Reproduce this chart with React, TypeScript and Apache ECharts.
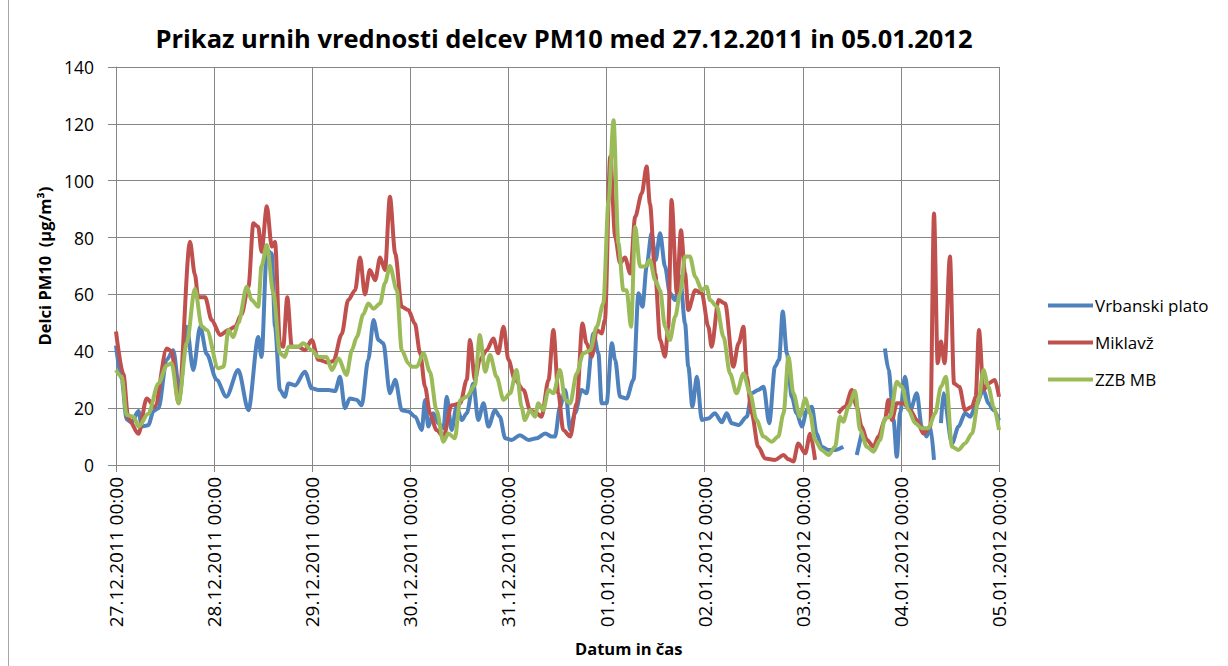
import React, { useEffect, useRef } from "react";
import * as echarts from "echarts";

// Hours since 27.12.2011 00:00, PM10 value (µg/m³); null marks a gap
const vrbanskiPlato: [number, number | null][] = [
  [0, 42], [1.4, 30], [2.6, 16], [3.8, 15], [5.5, 19], [6.3, 13.5], [7.9, 14], [9.2, 19], [10.4, 20],
  [12.4, 37], [14, 40.4], [15.6, 25], [17.3, 48.6], [18.9, 33.4], [20.6, 48.6], [22.2, 39], [24.6, 30],
  [27, 24], [29.9, 33.4], [32.4, 19.3], [34.8, 45], [35.6, 38], [36.9, 75.6], [38.1, 74.4], [38.9, 48.6],
  [40.1, 26.4], [41.3, 24], [42.2, 28.7], [43.8, 28], [46.2, 32.8], [47.9, 27], [49.5, 26.4], [52, 26.4],
  [53.6, 26], [54.8, 31], [56, 20], [57.2, 23.4], [58.9, 22.9], [60.1, 21], [61.7, 37], [63, 51],
  [64.2, 44], [65.4, 42.8], [67, 25.2], [68.3, 30], [69.9, 19.3], [71.5, 18.8], [73.2, 17], [74.8, 12.3],
  [75.6, 22.9], [76.4, 13.5], [77.6, 18.2], [78.9, 14.6], [80.1, 12.9], [80.9, 24], [82.1, 12.3],
  [83.3, 20.5], [84.6, 15.8], [85.8, 18.2], [87.4, 28.7], [88.6, 15.8], [89.9, 21.7], [91.1, 13.5],
  [92.7, 19.3], [93.9, 17], [95.2, 9.4], [96.8, 8.8], [98.8, 10.5], [100.9, 8.8], [102.9, 9.4], [105, 11.1],
  [106.6, 10], [107.4, 10], [108.6, 20.5], [109.9, 26.4], [111.1, 12.3], [112.3, 18.2], [113.9, 26.4],
  [115.1, 25.2], [116.8, 46.3], [118, 39.3], [118.8, 21.7], [120, 21.7], [121.3, 42.8], [122.1, 37],
  [123.3, 24], [124.9, 23.4], [126.6, 30], [127.8, 60.4], [128.8, 55.7], [129.8, 69.8], [131, 81.5],
  [132, 72.1], [133.1, 81.5], [134.3, 69.8], [135.5, 60.4], [136.8, 58], [138, 66.2], [139.2, 49.8],
  [140, 34.6], [141, 20.5], [142.1, 31], [143.3, 15.8], [144.9, 16.4], [146.5, 18.2], [148.2, 15],
  [149.4, 18.2], [150.6, 14.7], [152.3, 14.1], [154.3, 17], [155.5, 25.2], [157.1, 26.4], [158.4, 27.5],
  [159.8, 14.7], [161.2, 34.6], [162.2, 37], [163.1, 54], [164.1, 39.3], [165.3, 24], [166.5, 18.2],
  [167.8, 13.5], [169, 19.3], [170.2, 20.5], [171.4, 11.1], [172.6, 6.4], [174.3, 5.3], [175.9, 5.3],
  [177.9, 6.4], [178.5, null], [181.2, 3.5], [182.4, 11.1], [183, null], [188.1, 41], [189, 33.4],
  [190.2, 15.8], [191, 2.9], [191.8, 18.2], [193, 31], [194.3, 19.3], [195.9, 25.2], [197.1, 13.5],
  [198.3, 10], [199.2, 13.5], [200.1, 1.8], [201, null], [201.8, 14.7], [202.4, 25.2], [204.5, 7.6],
  [206.1, 13.5], [207.7, 18.2], [209, 17], [210.2, 20.5], [212.2, 26.4], [213.4, 21.7], [214.7, 19.3],
  [216, 15.8],
];

const miklavz: [number, number | null][] = [
  [0, 47], [1.8, 32], [3, 16.4], [5.5, 11], [7.5, 23.4], [9.5, 20.5], [12.4, 41], [13.6, 40], [15.3, 21.7],
  [18.1, 78.5], [19.3, 67], [20.1, 59], [21.8, 59], [23.4, 51], [25.5, 45.7], [27.5, 47.5], [29.1, 48.6],
  [30.7, 53], [32.4, 62.7], [33.6, 85], [34.8, 83.8], [35.6, 75], [36.9, 91], [38.1, 76.8], [38.9, 78.5],
  [40.1, 42.8], [40.9, 41.6], [41.9, 59], [43, 41.6], [44.6, 41.6], [46.2, 40.4], [47.9, 44], [49.5, 37],
  [52, 36], [53.2, 36.6], [55.2, 46], [56.8, 58], [58.5, 61.5], [59.7, 73], [60.9, 60], [62.1, 68.6],
  [63.4, 65], [64.6, 73], [65.8, 68.6], [67, 94.4], [68.3, 74.4], [69.9, 55.7], [71.5, 54.5], [73.1, 49.8],
  [74.4, 39.3], [75.6, 27.5], [76.8, 18.2], [78.4, 12.3], [80.1, 10], [82.1, 21], [84.2, 21.7], [85.8, 30],
  [86.6, 44], [87.8, 29.9], [89, 37], [90.7, 40.4], [92.3, 44.5], [93.5, 39.3], [94.8, 48.6], [96, 37],
  [97.6, 29.9], [99.7, 26.4], [101.3, 19.3], [102.9, 18.2], [104.1, 17], [105.8, 29.9], [107, 47.5],
  [108.2, 25.2], [109.4, 12.3], [111.1, 10], [112.7, 21.7], [114.1, 49.8], [115.1, 42.8], [116.4, 38.1],
  [117.6, 47.5], [118.8, 46.3], [119.6, 51], [120.9, 108.4], [122.1, 80.3], [123.3, 71], [124.5, 73],
  [125.8, 67.4], [127, 87.3], [128.6, 95.5], [129.8, 105], [130.6, 92], [131.9, 67.4], [133.1, 44],
  [134.3, 38.1], [135.1, 48.6], [135.9, 93.2], [137.2, 60.4], [138.2, 82.6], [139.2, 67.4], [140, 54.5],
  [141.7, 61.5], [143.3, 60.4], [144.9, 48.6], [145.7, 41.6], [147.4, 58], [149, 56.8], [151, 34.6],
  [152.3, 42.8], [153.5, 48.6], [154.3, 31], [155.5, 18.2], [157.1, 6.4], [158.8, 2.3], [161.2, 1.8],
  [163.3, 3.5], [164.5, 2], [165.7, 1.2], [166.9, 7.6], [168.6, 4.1], [169.8, 11], [171, 1.8], [172, null],
  [176.7, 18.2], [178.4, 20.5], [180, 26.4], [181.2, 20.5], [182.4, 13.5], [183.7, 8.8], [185.3, 6.4],
  [186.5, 10], [188.1, 15.8], [188.9, 22.9], [189.8, 15.8], [191, 21.7], [192.6, 21.7], [194.3, 19.3],
  [195.9, 15.8], [197.5, 11.1], [199.2, 13.5], [200.1, 88.5], [201, 35.8], [201.8, 43.4], [202.7, 35.8],
  [204, 73.3], [205, 28.7], [206.3, 27.5], [207.7, 19.3], [209.4, 20.5], [210.3, 24], [211.1, 47.5],
  [212.2, 26.4], [213.4, 28.7], [215, 29.9], [216, 24],
];

const zzbMb: [number, number | null][] = [
  [0, 33.4], [1.4, 31], [2.6, 17.6], [4.3, 17], [5.5, 13.5], [7.9, 18], [10.4, 28.7], [12.4, 35],
  [13.6, 35.8], [15.3, 21.7], [17.3, 42.8], [19.3, 62], [21, 48.7], [22.2, 47.5], [25, 34], [26.3, 34.6],
  [27.5, 47.5], [28.7, 45], [29.9, 49.8], [32, 62.7], [33.2, 58], [34.8, 55.7], [35.6, 70], [36.9, 77.4],
  [38.5, 60.4], [40.1, 39.3], [41.3, 38], [42.2, 41.6], [44.6, 41.6], [45.8, 42.8], [47.9, 40.4],
  [49.5, 38], [51.5, 38], [52.8, 33.4], [54.4, 37.5], [56.4, 31.7], [57.7, 40.4], [58.9, 45], [60.5, 53],
  [61.7, 56.8], [63, 55], [64.6, 56.8], [65.8, 64], [67, 70], [68.7, 61.5], [69.9, 40.4], [71.5, 35.8],
  [72.3, 34.6], [73.6, 34.6], [75.2, 39.3], [76.8, 32.8], [78.4, 19.3], [80.1, 8.2], [81.3, 11.1],
  [82.9, 9.4], [84.2, 22.9], [85.8, 24], [87.8, 28.1], [89, 45.7], [90.3, 32.8], [91.5, 38.7], [93.1, 31],
  [94.8, 22.9], [96.4, 25.2], [98, 33.4], [99.2, 20.5], [100, 15.8], [101.3, 19.3], [102.5, 17],
  [103.3, 21.7], [104.5, 19.3], [105.8, 26.4], [107, 25.2], [108.6, 33.4], [109.9, 22.9], [111.1, 21.7],
  [112.7, 32.2], [114.3, 39.3], [116, 40.4], [117.6, 48.6], [119.2, 56.8], [120.5, 93.2], [121.7, 121.3],
  [122.9, 78], [124.1, 61.5], [124.9, 61.5], [126, 48.6], [127, 83.8], [128.2, 69.8], [129.4, 69.8],
  [130.6, 72.1], [131.9, 65], [133.1, 61.5], [134.3, 48.6], [135.5, 44], [136.8, 52.2], [138, 60.4],
  [139.2, 73.3], [140.4, 73.3], [141.7, 66.2], [143.3, 61.5], [144.5, 62.7], [145.3, 58], [147, 55.7],
  [148.6, 45.1], [150.2, 32.2], [151.8, 25.2], [153.5, 32.2], [155.1, 25.2], [156.7, 15.8], [158.4, 10],
  [160.4, 8.2], [162, 10], [163.3, 18.2], [164.5, 38.1], [165.7, 25.2], [167.3, 17], [168.6, 23.4],
  [169.8, 18.2], [171, 8.8], [172.6, 5.3], [174.3, 3.5], [175.9, 6.4], [177.1, 17], [177.9, 15.2],
  [179.2, 20.5], [180.8, 26], [182, 12.3], [183.7, 6.4], [185.3, 4.7], [186.9, 8.8], [188.1, 16.4],
  [189.4, 17], [191, 29.3], [192.2, 27.5], [193.9, 19.3], [195.5, 14.7], [197.1, 12.9], [198.7, 12.9],
  [200.4, 18.2], [201.8, 27.5], [203, 31], [204.5, 6.4], [206.1, 5.3], [207.7, 7.6], [209.4, 11.1],
  [211, 22.9], [212.2, 33.4], [213.4, 27.5], [214.7, 20.5], [216, 12.3],
];

const seriesNames = ["Vrbanski plato", "Miklavž", "ZZB MB"];
const seriesColors = ["#4F81BD", "#C0504D", "#9BBB59"];
const titleText = "Prikaz urnih vrednosti delcev PM10 med 27.12.2011 in 05.01.2012";
const yAxisTitle = "Delci PM10  (µg/m³)";
const xAxisTitle = "Datum in čas";
const startUtc = Date.UTC(2011, 11, 27, 0, 0);

const FONT = "'Open Sans', 'Noto Sans', sans-serif";

function fmtHour(h: number): string {
  const d = new Date(startUtc + h * 3600000);
  const p = (n: number) => String(n).padStart(2, "0");
  return `${p(d.getUTCDate())}.${p(d.getUTCMonth() + 1)}.${d.getUTCFullYear()} ${p(d.getUTCHours())}:${p(d.getUTCMinutes())}`;
}

export default function App() {
  const ref = useRef<HTMLDivElement>(null);
  useEffect(() => {
    if (!ref.current) return;
    const chart = echarts.init(ref.current, null, { renderer: "svg" });
    const datasets = [vrbanskiPlato, miklavz, zzbMb];
    chart.setOption({
      animation: false,
      backgroundColor: "#ffffff",
      title: {
        text: titleText,
        left: 564,
        top: 25,
        padding: 0,
        textAlign: "center",
        textStyle: { fontFamily: FONT, fontWeight: "bold", fontSize: 25.5, color: "#000" },
      },
      legend: {
        orient: "vertical",
        left: 1043,
        top: 292,
        itemWidth: 45,
        itemHeight: 4,
        itemGap: 20,
        icon: "rect",
        data: seriesNames,
        textStyle: { fontFamily: FONT, fontSize: 17, color: "#000", padding: [0, 0, 0, -3] },
      },
      grid: { left: 116, right: 229, top: 67, bottom: 201, containLabel: false },
      xAxis: {
        type: "value",
        min: 0,
        max: 216,
        interval: 24,
        axisLine: { show: true, lineStyle: { color: "#868686", width: 1 } },
        axisTick: { show: true, length: 7, lineStyle: { color: "#868686" } },
        splitLine: { show: true, lineStyle: { color: "#868686", width: 1 } },
        axisLabel: {
          rotate: 90,
          margin: 12,
          fontFamily: FONT,
          fontSize: 19,
          color: "#000",
          formatter: (v: number) => fmtHour(v),
        },
      },
      yAxis: {
        type: "value",
        min: 0,
        max: 140,
        interval: 20,
        name: yAxisTitle,
        nameLocation: "middle",
        nameRotate: 90,
        nameGap: 62,
        nameTextStyle: { fontFamily: FONT, fontWeight: "bold", fontSize: 16.5, color: "#000" },
        axisLine: { show: true, lineStyle: { color: "#868686", width: 1 } },
        axisTick: { show: true, length: 8, lineStyle: { color: "#868686" } },
        splitLine: { show: true, lineStyle: { color: "#868686", width: 1 } },
        axisLabel: { margin: 22, fontFamily: FONT, fontSize: 17.5, color: "#000" },
      },
      graphic: [
        {
          type: "text",
          left: 575,
          top: 640,
          style: {
            text: xAxisTitle,
            fontFamily: FONT,
            fontWeight: "bold",
            fontSize: 16.5,
            fill: "#000",
            textAlign: "center",
          },
        },
        {
          type: "line",
          shape: { x1: 8.5, y1: 0, x2: 8.5, y2: 666 },
          style: { stroke: "#a6a6a6", lineWidth: 1 },
        },
      ],
      series: datasets.map((data, i) => ({
        name: seriesNames[i],
        type: "line",
        data,
        showSymbol: false,
        symbol: "none",
        smooth: 0.3,
        smoothMonotone: "x",
        connectNulls: false,
        color: seriesColors[i],
        lineStyle: { width: 4, color: seriesColors[i] },
      })),
    });
    return () => chart.dispose();
  }, []);
  return (
    <div style={{ position: "fixed", left: 0, top: 0, width: 1228, height: 666, background: "#fff" }}>
      <div ref={ref} style={{ width: 1228, height: 666 }} />
    </div>
  );
}
